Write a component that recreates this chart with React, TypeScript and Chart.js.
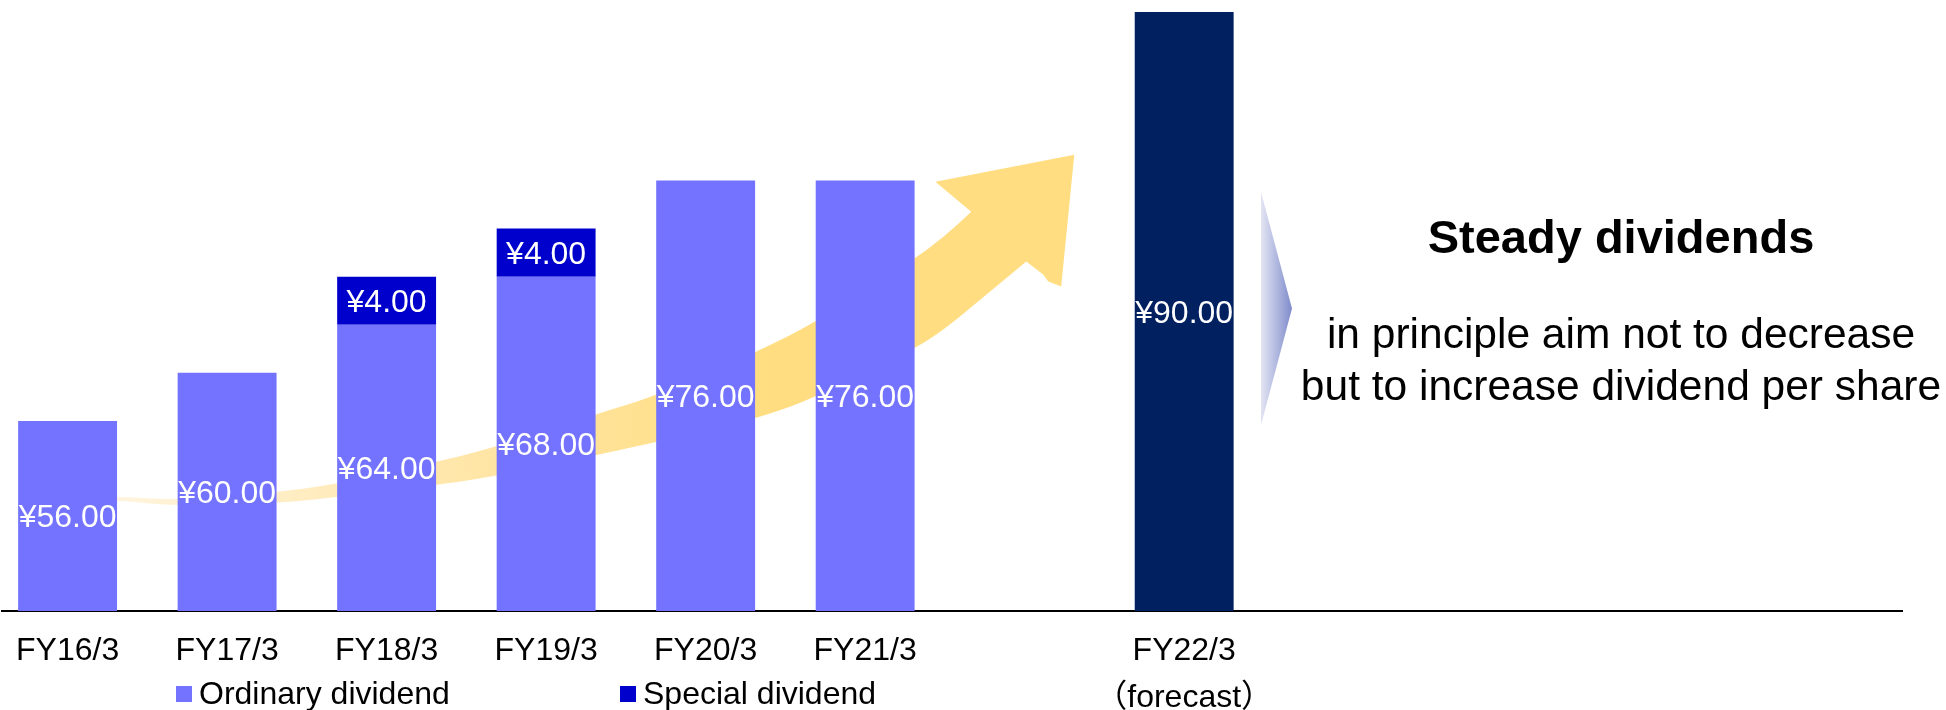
import React, { useEffect, useRef } from 'react';
import { Chart, registerables } from 'chart.js';

Chart.register(...registerables);

// ---- data ----
const categories = ['FY16/3', 'FY17/3', 'FY18/3', 'FY19/3', 'FY20/3', 'FY21/3', '', 'FY22/3'];
const categoryNotes = ['', '', '', '', '', '', '', '（forecast）'];
const ordinaryDividend: (number | null)[] = [56, 60, 64, 68, 76, 76, null, null];
const specialDividend: (number | null)[] = [null, null, 4, 4, null, null, null, null];
const forecastDividend: (number | null)[] = [null, null, null, null, null, null, null, 90];
const seriesNames = ['Ordinary dividend', 'Special dividend', 'Forecast'];
const headline = 'Steady dividends';
const policyLines = ['in principle aim not to decrease', 'but to increase dividend per share'];

// decorative rising arrow outline, in axis units (x: category index, y: yen)
const arrowUpper = [
  [0.1, 49.6], [0.307, 49.75], [0.683, 49.41], [1.31, 50.08], [1.686, 50.74], [2.306, 52.57],
  [2.682, 53.81], [3.309, 56.55], [3.685, 58.05], [4.312, 61.7], [4.688, 64.19], [5.302, 69.4],
  [5.496, 71.33], [5.665, 73.4],
];
const arrowHead = [[5.44, 75.89], [6.311, 78.13], [6.229, 67.18], [6.148, 67.59], [6.116, 68.17]];
const arrowLower = [
  [6.01, 69.25], [5.747, 66.35], [5.496, 63.61], [5.302, 61.95], [4.688, 57.96], [4.312, 56.14],
  [3.685, 54.23], [3.309, 53.15], [2.682, 51.41], [2.306, 50.66], [1.686, 49.66], [1.31, 49.16],
  [0.683, 48.92], [0.307, 49.41], [0.1, 49.4],
];

const FONT = '"Liberation Sans", Arial, Helvetica, "Noto Sans CJK JP", sans-serif';
const COLORS = ['#7373FF', '#0000CC', '#002060'];

const toPoints = (arr: (number | null)[]) =>
  arr.map((v, i) => (v == null ? null : { x: i, y: v })).filter((p) => p !== null) as { x: number; y: number }[];

const arrowPlugin = {
  id: 'risingArrow',
  beforeDatasetsDraw(chart: any) {
    const { ctx, scales } = chart;
    const xs = scales.x;
    const ys = scales.y;
    const P = (p: number[]) => [xs.getPixelForValue(p[0]), ys.getPixelForValue(p[1])];
    const up = arrowUpper.map(P);
    const head = arrowHead.map(P);
    const low = arrowLower.map(P);
    const smooth = (pts: number[][]) => {
      for (let i = 1; i < pts.length - 1; i++) {
        const mx = (pts[i][0] + pts[i + 1][0]) / 2;
        const my = (pts[i][1] + pts[i + 1][1]) / 2;
        ctx.quadraticCurveTo(pts[i][0], pts[i][1], mx, my);
      }
      const l = pts[pts.length - 1];
      ctx.lineTo(l[0], l[1]);
    };
    ctx.save();
    const g = ctx.createLinearGradient(xs.getPixelForValue(0.3), 0, xs.getPixelForValue(4.4), 0);
    g.addColorStop(0, '#FFF4DE');
    g.addColorStop(0.45, '#FFE8B0');
    g.addColorStop(1, '#FFDD80');
    ctx.fillStyle = g;
    ctx.beginPath();
    ctx.moveTo(up[0][0], up[0][1]);
    smooth(up);
    head.forEach((p) => ctx.lineTo(p[0], p[1]));
    ctx.lineTo(low[0][0], low[0][1]);
    smooth(low);
    ctx.closePath();
    ctx.fill();
    ctx.restore();
  },
};

const valueLabelPlugin = {
  id: 'valueLabels',
  afterDatasetsDraw(chart: any) {
    const { ctx, chartArea } = chart;
    ctx.save();
    ctx.font = `32px ${FONT}`;
    ctx.fillStyle = '#FFFFFF';
    ctx.textAlign = 'center';
    ctx.textBaseline = 'middle';
    chart.data.datasets.forEach((ds: any, di: number) => {
      const meta = chart.getDatasetMeta(di);
      meta.data.forEach((el: any, i: number) => {
        const v = ds.data[i].y;
        const { x, y, base } = el.getProps(['x', 'y', 'base'], true);
        const bottom = Math.min(base, chartArea.bottom);
        ctx.fillText('¥' + v.toFixed(2), x, (y + bottom) / 2 + 2.5);
      });
    });
    ctx.restore();
  },
};

export default function App() {
  const ref = useRef<HTMLCanvasElement | null>(null);

  useEffect(() => {
    if (!ref.current) return;
    const chart = new Chart(ref.current, {
      type: 'bar',
      data: {
        datasets: [ordinaryDividend, specialDividend, forecastDividend].map((arr, i) => ({
          label: seriesNames[i],
          data: toPoints(arr),
          backgroundColor: COLORS[i],
          borderWidth: 0,
          categoryPercentage: 1,
          barPercentage: 0.62,
        })),
      } as any,
      options: {
        responsive: false,
        animation: false,
        events: [],
        layout: { padding: { left: 0, right: 44, top: 0, bottom: 0 } },
        plugins: {
          legend: { display: false },
          tooltip: { enabled: false },
          title: { display: false },
        },
        scales: {
          x: {
            type: 'linear',
            min: -0.41,
            max: 11.5,
            offset: false,
            stacked: true,
            grid: { display: false, drawTicks: false, offset: false },
            border: { display: true, color: '#000000', width: 2 },
            afterBuildTicks: (axis: any) => {
              axis.ticks = categories
                .map((c, i) => ({ value: i, c }))
                .filter((t) => t.c !== '')
                .map((t) => ({ value: t.value }));
            },
            ticks: {
              padding: 16,
              autoSkip: false,
              maxRotation: 0,
              color: '#000000',
              font: { family: FONT, size: 32, lineHeight: 1.484 },
              callback: (value: any) => {
                const i = Math.round(Number(value));
                const note = categoryNotes[i];
                return note ? [categories[i], note] : categories[i];
              },
            },
          },
          y: {
            display: false,
            min: 40.2,
            max: 91,
            stacked: true,
          },
        },
      } as any,
      plugins: [arrowPlugin, valueLabelPlugin],
    });
    return () => chart.destroy();
  }, []);

  const text: React.CSSProperties = { position: 'absolute', fontFamily: FONT, color: '#000', whiteSpace: 'nowrap' };

  return (
    <div style={{ position: 'absolute', left: 0, top: 0, width: 1946, height: 710, overflow: 'hidden', background: '#fff' }}>
      <canvas ref={ref} width={1946} height={738} style={{ position: 'absolute', left: 0, top: 0, width: 1946, height: 738 }} />
      <div
        style={{
          position: 'absolute', left: 1261, top: 192, width: 31, height: 233,
          clipPath: 'polygon(0 0, 100% 50%, 0 100%)',
          background: 'linear-gradient(to right, #E3E5F3, #7F8BCB)',
        }}
      />
      <div style={{ ...text, left: 1321, width: 600, top: 210, textAlign: 'center', fontWeight: 'bold', fontSize: 47, lineHeight: '54px' }}>
        {headline}
      </div>
      <div style={{ ...text, left: 1271, width: 700, top: 308, textAlign: 'center', fontSize: 42.5, lineHeight: '52px' }}>
        {policyLines.map((l) => (
          <div key={l}>{l}</div>
        ))}
      </div>
      {seriesNames.slice(0, 2).map((name, i) => (
        <React.Fragment key={name}>
          <div style={{ position: 'absolute', left: i === 0 ? 176 : 620, top: 686, width: 16, height: 16, background: COLORS[i] }} />
          <div style={{ ...text, left: i === 0 ? 199 : 643, top: 677, fontSize: 32, lineHeight: '32px' }}>{name}</div>
        </React.Fragment>
      ))}
    </div>
  );
}
